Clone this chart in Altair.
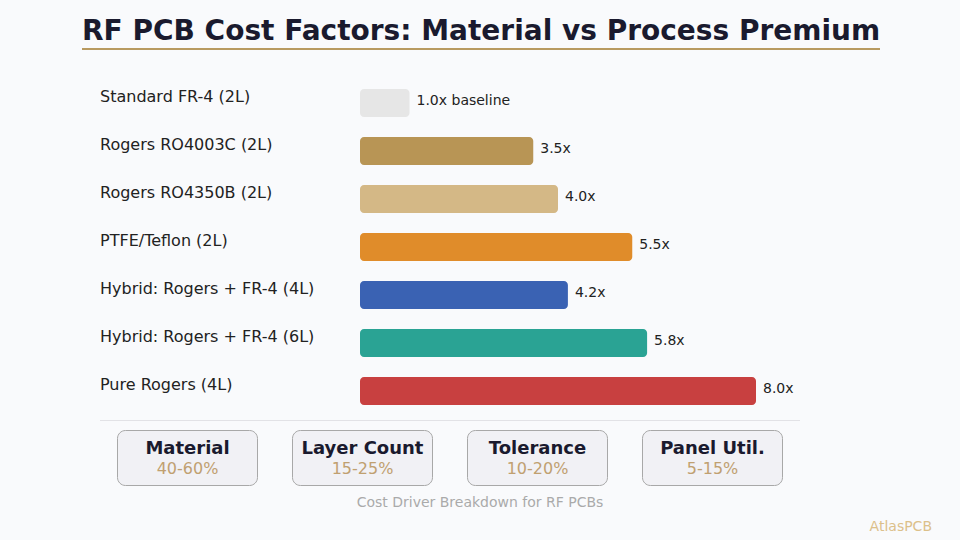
import altair as alt
import pandas as pd

# ---- data ----
categories = [
    "Standard FR-4 (2L)",
    "Rogers RO4003C (2L)",
    "Rogers RO4350B (2L)",
    "PTFE/Teflon (2L)",
    "Hybrid: Rogers + FR-4 (4L)",
    "Hybrid: Rogers + FR-4 (6L)",
    "Pure Rogers (4L)",
]
multipliers = [1.0, 3.5, 4.0, 5.5, 4.2, 5.8, 8.0]
value_labels = ["1.0x baseline", "3.5x", "4.0x", "5.5x", "4.2x", "5.8x", "8.0x"]
bar_colors = ["#e6e6e6", "#b89555", "#d4b886", "#e08c2a", "#3a62b3", "#2aa394", "#c84040"]

drivers = ["Material", "Layer Count", "Tolerance", "Panel Util."]
driver_ranges = ["40-60%", "15-25%", "10-20%", "5-15%"]

TITLE = "RF PCB Cost Factors: Material vs Process Premium"
CAPTION = "Cost Driver Breakdown for RF PCBs"
BRAND = "AtlasPCB"

FONT = "DejaVu Sans"

df = pd.DataFrame({
    "cat": categories,
    "mult": multipliers,
    "label": value_labels,
    "color": bar_colors,
})
dd = pd.DataFrame({"driver": drivers, "range": driver_ranges})

xs = alt.Scale(domain=[0, 8.8], range=[360, 795.6], nice=False, zero=True)
ys = alt.Scale(domain=categories, range=[79, 415], paddingInner=0.4167, paddingOuter=0.2083)

base = alt.Chart(df)
bars = base.mark_bar(cornerRadius=4).encode(
    x=alt.X("mult:Q", scale=xs, axis=None),
    x2=alt.datum(0),
    y=alt.Y("cat:N", scale=ys, axis=None, sort=categories),
    color=alt.Color("color:N", scale=None, legend=None),
)
vals = base.mark_text(align="left", baseline="middle", dx=7, dy=-2, fontSize=14,
                      font=FONT, color="#222222").encode(
    x=alt.X("mult:Q", scale=xs, axis=None),
    y=alt.Y("cat:N", scale=ys, axis=None, sort=categories),
    text="label:N",
)
names = base.mark_text(align="left", baseline="middle", dy=-6, fontSize=16,
                       font=FONT, color="#222222").encode(
    x=alt.value(100),
    y=alt.Y("cat:N", scale=ys, axis=None, sort=categories),
    text="cat:N",
)
bar_layer = alt.layer(bars, vals, names)

bxs = alt.Scale(domain=drivers, range=[100, 800], paddingInner=0.2, paddingOuter=0.1)
bbase = alt.Chart(dd)
boxes = bbase.mark_rect(cornerRadius=8, fill="#f1f1f5", stroke="#a8a8a8", strokeWidth=1).encode(
    x=alt.X("driver:N", scale=bxs, axis=None, sort=drivers),
    y=alt.value(430.5),
    y2=alt.value(485.5),
)
bnames = bbase.mark_text(align="center", baseline="middle", fontSize=18, fontWeight="bold",
                         font=FONT, color="#1a1a2e").encode(
    x=alt.X("driver:N", scale=bxs, axis=None, sort=drivers, bandPosition=0.5),
    y=alt.value(448.5),
    text="driver:N",
)
branges = bbase.mark_text(align="center", baseline="middle", fontSize=16,
                          font=FONT, color="#c0a070").encode(
    x=alt.X("driver:N", scale=bxs, axis=None, sort=drivers, bandPosition=0.5),
    y=alt.value(469),
    text="range:N",
)
box_layer = alt.layer(boxes, bnames, branges)

one = lambda t: pd.DataFrame({"t": [t]})
title = alt.Chart(one(TITLE)).mark_text(align="left", baseline="alphabetic", fontSize=28,
                                        fontWeight="bold", font=FONT, color="#1a1a2e").encode(
    x=alt.value(82), y=alt.value(39.5), text="t:N")
underline = alt.Chart(one("u")).mark_rule(color="#b89a60", strokeWidth=2).encode(
    x=alt.value(82), x2=alt.value(880), y=alt.value(49))
sep = alt.Chart(one("s")).mark_rule(color="#e2e2e6", strokeWidth=1).encode(
    x=alt.value(100), x2=alt.value(800), y=alt.value(420.5))
caption = alt.Chart(one(CAPTION)).mark_text(align="center", baseline="middle", fontSize=14,
                                            font=FONT, color="#aaaaaa").encode(
    x=alt.value(480), y=alt.value(503), text="t:N")
brand = alt.Chart(one(BRAND)).mark_text(align="right", baseline="middle", fontSize=14,
                                        font=FONT, color="#dcc08a").encode(
    x=alt.value(932), y=alt.value(527), text="t:N")

chart = alt.layer(bar_layer, box_layer, title, underline, sep, caption, brand).resolve_scale(
    x="independent", y="independent"
).properties(
    width=960, height=540, padding=0,
    autosize=alt.AutoSizeParams(type="none"),
    background="#f9fafc",
).configure_view(stroke=None)

chart.save("out.html", embed_options={"renderer": "svg", "actions": False})
